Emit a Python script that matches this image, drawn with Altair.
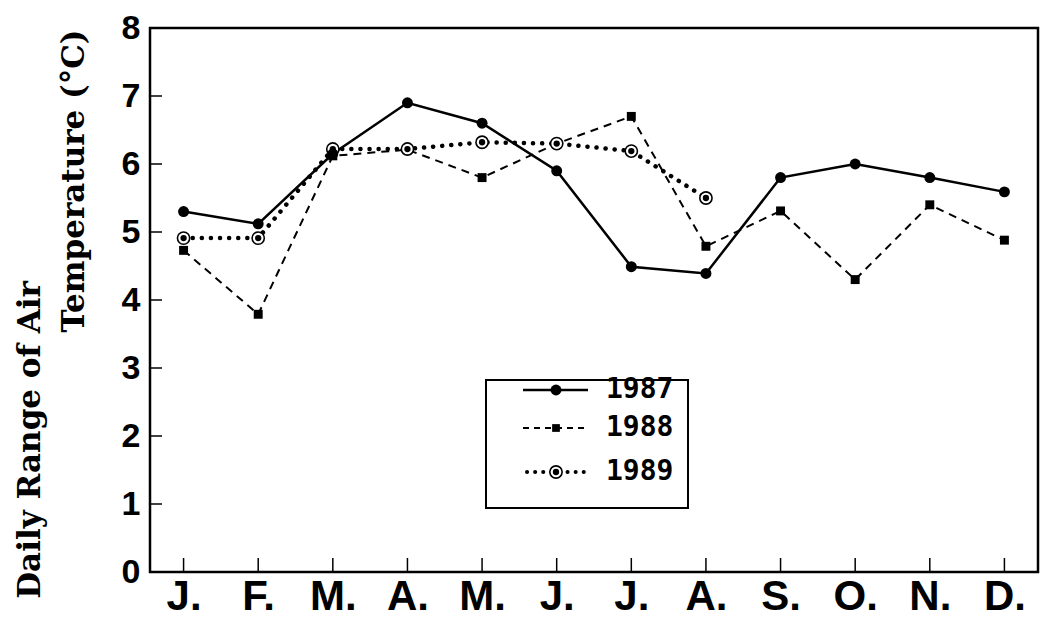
import altair as alt
import pandas as pd

months = list(range(1, 13))
month_labels = ["J.", "F.", "M.", "A.", "M.", "J.", "J.", "A.", "S.", "O.", "N.", "D."]
y_ticks = [0, 1, 2, 3, 4, 5, 6, 7, 8]

v1987 = [5.3, 5.12, 6.15, 6.9, 6.6, 5.9, 4.49, 4.39, 5.8, 6.0, 5.8, 5.59]
v1988 = [4.73, 3.79, 6.12, 6.21, 5.8, 6.3, 6.7, 4.79, 5.31, 4.3, 5.4, 4.88]
v1989 = [4.91, 4.91, 6.22, 6.22, 6.32, 6.3, 6.19, 5.5]

df87 = pd.DataFrame({"m": months, "v": v1987})
df88 = pd.DataFrame({"m": months, "v": v1988})
df89 = pd.DataFrame({"m": months[:len(v1989)], "v": v1989})
xt = pd.DataFrame({"m": months})
yt = pd.DataFrame({"v": y_ticks})

W, H = 888, 544
label_js = "[" + ",".join("'%s'" % s for s in month_labels) + "]"

X = alt.X("m:Q", scale=alt.Scale(domain=[0.55, 12.45], nice=False, zero=False),
          axis=alt.Axis(values=months, labelExpr=label_js + "[datum.value-1]",
                        ticks=False, domain=False, grid=False, title=None,
                        labelFont="Liberation Sans", labelFontWeight="bold",
                        labelFontSize=42, labelColor="black", labelPadding=4,
                        labelFlush=False, labelOverlap=False))
Y = alt.Y("v:Q", scale=alt.Scale(domain=[0, 8], nice=False, zero=True),
          axis=alt.Axis(values=y_ticks, ticks=False, domain=False, grid=False, title=None,
                        labelFont="Liberation Sans", labelFontWeight="bold",
                        labelFontSize=34, labelColor="black", labelPadding=10,
                        labelFlush=False, labelOverlap=False))

# inward ticks
xticks = alt.Chart(xt).mark_rule(color="black", strokeWidth=1.5).encode(
    x=X, y=alt.value(H), y2=alt.value(H - 14))
yticks = alt.Chart(yt).mark_rule(color="black", strokeWidth=1.5).encode(
    y=Y, x=alt.value(0), x2=alt.value(12))

l87 = alt.Chart(df87).mark_line(color="black", strokeWidth=2.5).encode(x=X, y=Y)
p87 = alt.Chart(df87).mark_point(shape="circle", filled=True, color="black", size=120, opacity=1).encode(x=X, y=Y)

l88 = alt.Chart(df88).mark_line(color="black", strokeWidth=2, strokeDash=[8, 6]).encode(x=X, y=Y)
p88 = alt.Chart(df88).mark_point(shape="square", filled=True, color="black", size=80, opacity=1).encode(x=X, y=Y)

l89 = alt.Chart(df89).mark_line(color="black", strokeWidth=4.5, strokeDash=[0.1, 9], strokeCap="round").encode(x=X, y=Y)
p89o = alt.Chart(df89).mark_point(shape="circle", filled=True, fill="white", stroke="black", strokeWidth=1.6, size=150, opacity=1).encode(x=X, y=Y)
p89i = alt.Chart(df89).mark_point(shape="circle", filled=True, color="black", size=40, opacity=1).encode(x=X, y=Y)

# legend (decoration)
LX0, LX1, LY0, LY1 = 336, 538, 352, 480
one = pd.DataFrame({"a": [0]})
legend_box = alt.Chart(one).mark_rect(fill="white", stroke="black", strokeWidth=2).encode(
    x=alt.value(LX0), x2=alt.value(LX1), y=alt.value(LY0), y2=alt.value(LY1))
ent_y = [362, 400, 444]
seg_x0, seg_x1, mk_x, txt_x = 373, 438, 406, 456
leg = [legend_box]
leg.append(alt.Chart(one).mark_rule(color="black", strokeWidth=2.5).encode(
    x=alt.value(seg_x0), x2=alt.value(seg_x1), y=alt.value(ent_y[0])))
leg.append(alt.Chart(one).mark_point(shape="circle", filled=True, color="black", size=120, opacity=1).encode(
    x=alt.value(mk_x), y=alt.value(ent_y[0])))
leg.append(alt.Chart(one).mark_rule(color="black", strokeWidth=2, strokeDash=[6, 5]).encode(
    x=alt.value(seg_x0), x2=alt.value(seg_x1), y=alt.value(ent_y[1])))
leg.append(alt.Chart(one).mark_point(shape="square", filled=True, color="black", size=60, opacity=1).encode(
    x=alt.value(mk_x), y=alt.value(ent_y[1])))
leg.append(alt.Chart(one).mark_rule(color="black", strokeWidth=4, strokeDash=[0.1, 8], strokeCap="round").encode(
    x=alt.value(seg_x0 + 4), x2=alt.value(seg_x1), y=alt.value(ent_y[2])))
leg.append(alt.Chart(one).mark_point(shape="circle", filled=True, fill="white", stroke="black", strokeWidth=1.6, size=150, opacity=1).encode(
    x=alt.value(mk_x), y=alt.value(ent_y[2])))
leg.append(alt.Chart(one).mark_point(shape="circle", filled=True, color="black", size=40, opacity=1).encode(
    x=alt.value(mk_x), y=alt.value(ent_y[2])))
for yy, lab in zip(ent_y, ["1987", "1988", "1989"]):
    leg.append(alt.Chart(one).mark_text(text=lab, font="DejaVu Sans Mono", fontWeight="bold", fontSize=28,
                                        align="left", baseline="middle", color="black").encode(
        x=alt.value(txt_x), y=alt.value(yy)))

# y title (two lines)
t1 = alt.Chart(one).mark_text(text="Daily Range of Air", font="DejaVu Serif", fontWeight="bold", fontSize=31,
                              angle=270, align="center", baseline="middle", color="black").encode(
    x=alt.value(-119), y=alt.value(412))
t2 = alt.Chart(one).mark_text(text="Temperature (°C)", font="DejaVu Serif", fontWeight="bold", fontSize=31,
                              angle=270, align="center", baseline="middle", color="black").encode(
    x=alt.value(-75), y=alt.value(153))

chart = alt.layer(
    xticks, yticks, l88, l89, l87, p88, p89o, p89i, p87, *leg, t1, t2
).properties(
    width=W, height=H,
    background="white",
    autosize=alt.AutoSizeParams(type="none"),
    padding={"left": 142, "top": 20, "right": 2, "bottom": 47},
).configure_view(stroke="black", strokeWidth=2.5)

chart.save("out.html", embed_options={"renderer": "svg", "actions": False})
